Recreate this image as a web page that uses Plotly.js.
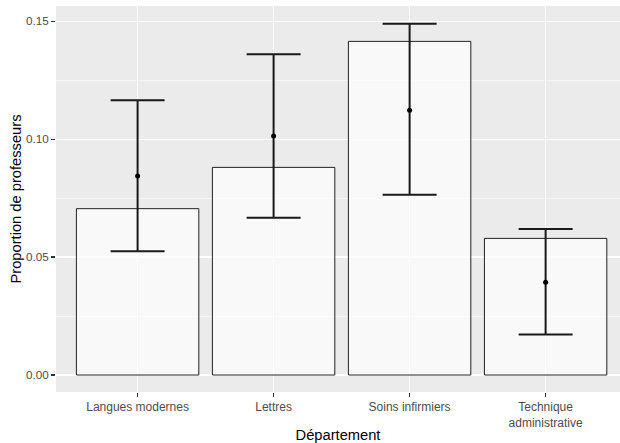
<!DOCTYPE html>
<html>
<head>
<meta charset="utf-8">
<script src="https://cdn.plot.ly/plotly-3.0.1.min.js"></script>
<style>html,body{margin:0;padding:0;background:#fff}#chart{width:620px;height:443px}</style>
</head>
<body>
<div id="chart"></div>
<script>
const categories = ["Langues modernes", "Lettres", "Soins infirmiers", "Technique<br>administrative"];
const barValues = [0.0705, 0.0880, 0.1414, 0.0579];
const pointValues = [0.0843, 0.1013, 0.1122, 0.0393];
const upperValues = [0.1165, 0.1360, 0.1489, 0.0619];
const lowerValues = [0.0525, 0.0667, 0.0764, 0.0172];
const yTicks = [0, 0.05, 0.10, 0.15];
const yTickLabels = ["0.00", "0.05", "0.10", "0.15"];

const bars = {
  type: "bar",
  x: categories,
  y: barValues,
  width: 0.9,
  marker: {color: "rgba(255,255,255,0.7)", line: {color: "#222222", width: 1}},
  hoverinfo: "skip",
  showlegend: false
};
const points = {
  type: "scatter",
  mode: "markers",
  x: categories,
  y: pointValues,
  marker: {color: "#000000", size: 5},
  error_y: {
    type: "data",
    symmetric: false,
    array: upperValues.map((u, i) => u - pointValues[i]),
    arrayminus: lowerValues.map((l, i) => pointValues[i] - l),
    color: "#1a1a1a",
    thickness: 2,
    width: 27
  },
  showlegend: false
};

const layout = {
  width: 620, height: 443,
  margin: {l: 56, r: 0, t: 6, b: 51},
  paper_bgcolor: "#ffffff",
  plot_bgcolor: "#EBEBEB",
  font: {family: "Liberation Sans, Arial, sans-serif", color: "#4D4D4D", size: 12},
  xaxis: {
    type: "category",
    range: [-0.6, 3.547],
    showgrid: true, gridcolor: "#ffffff", gridwidth: 1.1,
    zeroline: false, showline: false,
    ticks: "outside", ticklen: 4, tickwidth: 1.1, tickcolor: "#333333",
    tickfont: {size: 12, color: "#4D4D4D"},
    title: {text: "Département", font: {size: 14.7, color: "#000000"}, standoff: 4}
  },
  yaxis: {
    range: [-0.0072, 0.1564],
    tickvals: yTicks, ticktext: yTickLabels,
    showgrid: true, gridcolor: "#ffffff", gridwidth: 1.1,
    minor: {tickvals: [0.025, 0.075, 0.125], showgrid: true, gridcolor: "#ffffff", gridwidth: 0.55, ticks: ""},
    zeroline: false, showline: false,
    ticks: "outside", ticklen: 4, tickwidth: 1.1, tickcolor: "#333333",
    tickfont: {size: 11.7, color: "#4D4D4D"},
    title: {text: "Proportion de professeurs", font: {size: 14.7, color: "#000000"}, standoff: 0}
  }
};

Plotly.newPlot("chart", [bars, points], layout, {displayModeBar: false, staticPlot: true});
</script>
</body>
</html>
